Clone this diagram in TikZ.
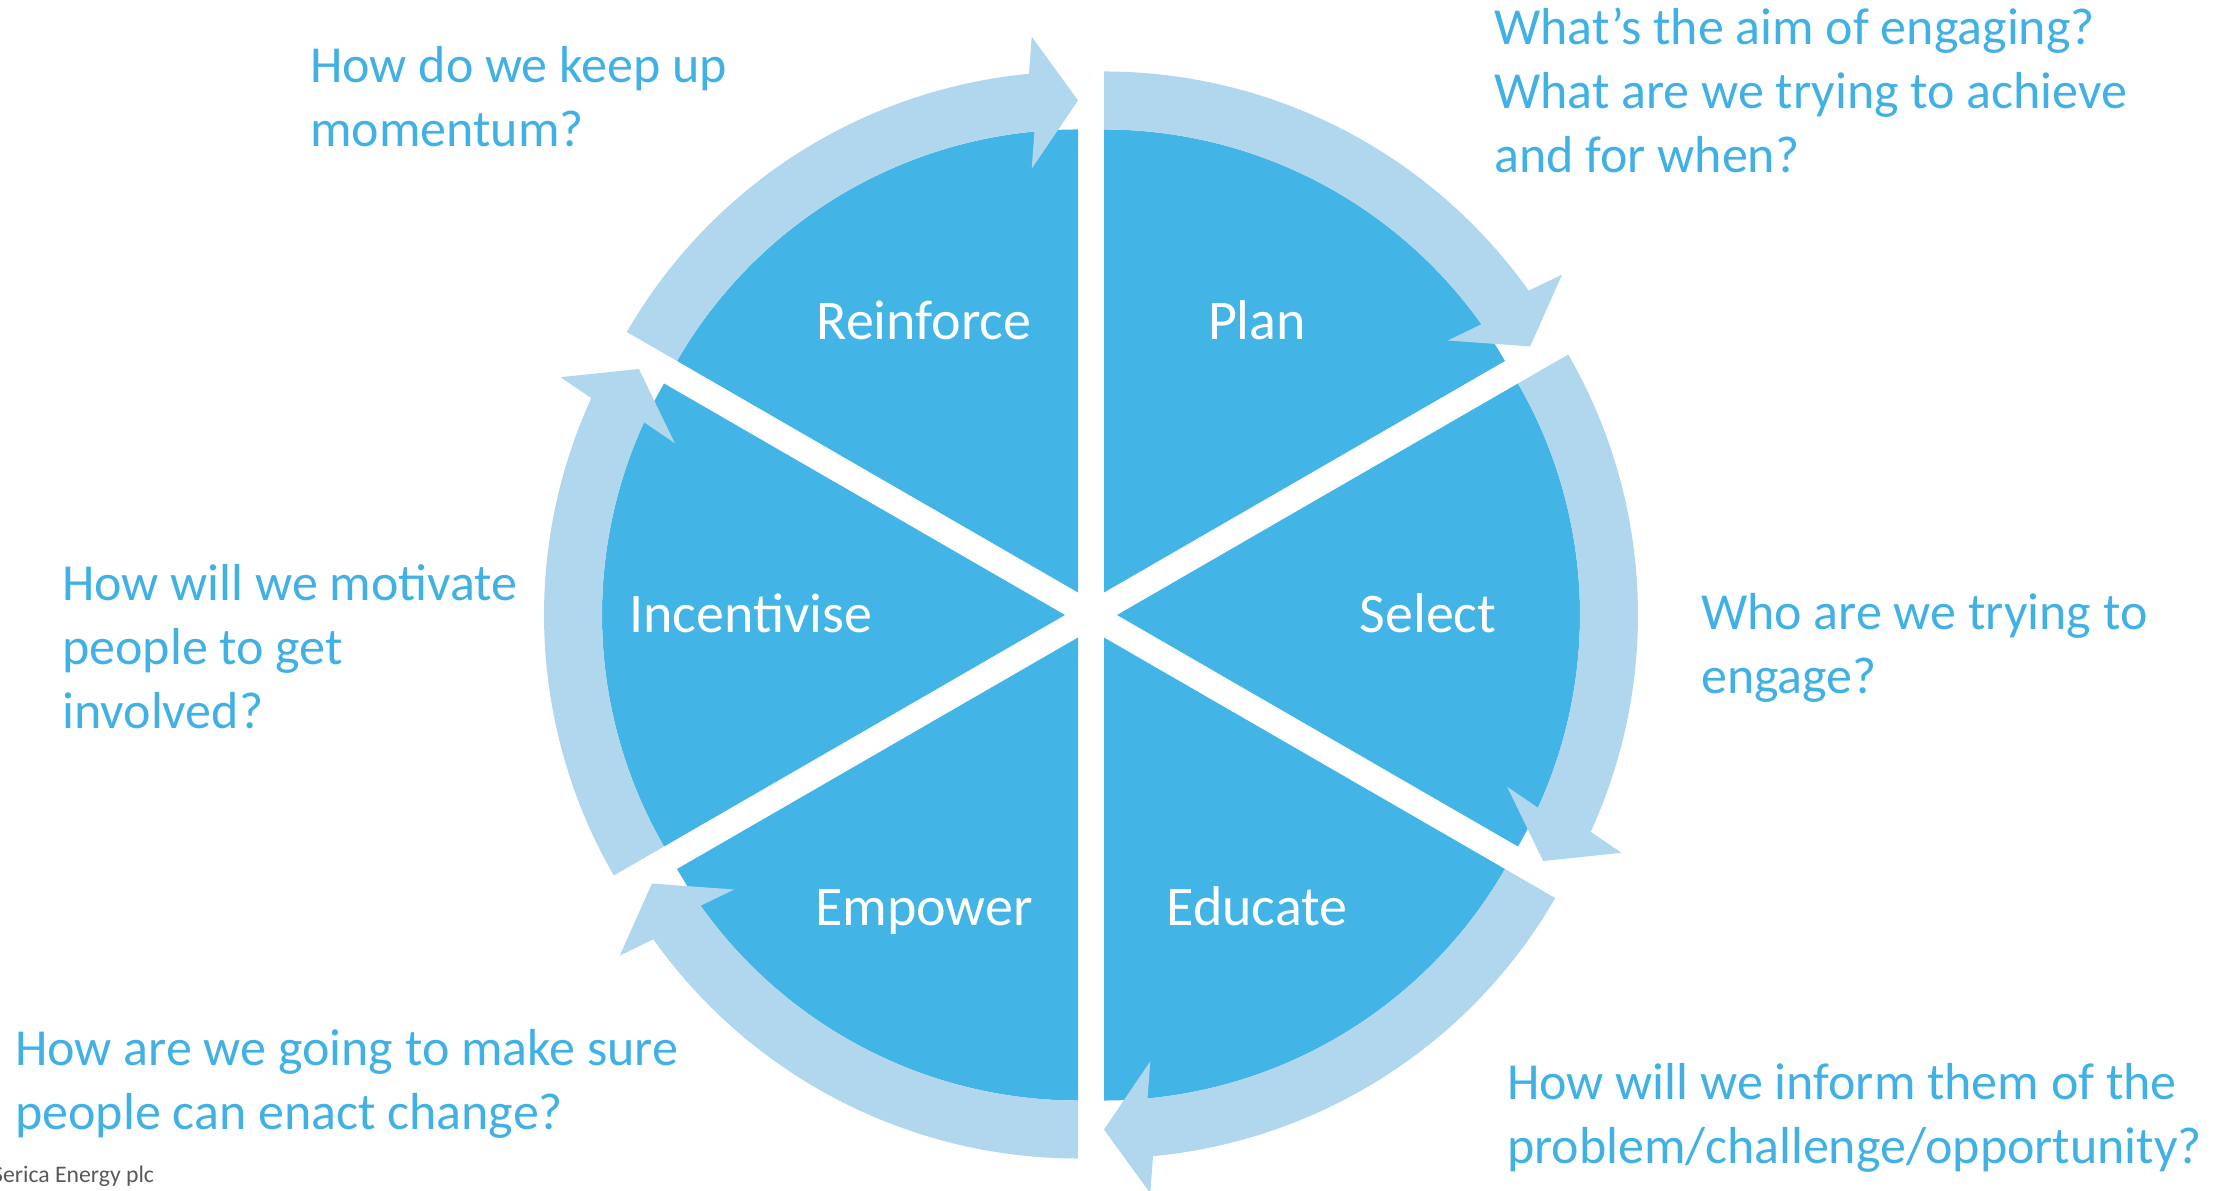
\documentclass[tikz,border=0pt]{standalone}
\usepackage{fontspec}
\setmainfont{Carlito}
\usetikzlibrary{calc}
\definecolor{pieblue}{RGB}{66,180,229}
\definecolor{ringblue}{RGB}{176,215,238}
\definecolor{qblue}{RGB}{65,177,229}
\definecolor{footgray}{RGB}{89,89,89}
\begin{document}
\begin{tikzpicture}[x=1pt,y=1pt,
  sector/.style={fill=pieblue},
  ringarrow/.style={fill=ringblue},
  seglabel/.style={text=white, font=\fontsize{56}{67}\selectfont, inner sep=0, anchor=base},
  question/.style={text=qblue, font=\fontsize{52}{64}\selectfont, align=left, anchor=base west, inner sep=0},
  footer/.style={text=footgray, font=\fontsize{23.7}{28}\selectfont, anchor=base west, inner sep=0}]
\path[use as bounding box] (0,0) rectangle (2222,1191);
\coordinate (O) at (1091,576);
% pie sectors (exploded)
\foreach \b/\n in {60/plan,0/select,-60/educate,-120/empower,180/incent,120/reinforce}{
  \coordinate (A-\n) at ($(O)+(\b:26)$);
  \pgfmathsetmacro\s{\b+30}
  \pgfmathsetmacro\e{\b-30}
  \fill[sector] (A-\n) -- ($(A-\n)+(\s:463)$) arc[start angle=\s, end angle=\e, radius=463] -- cycle;
}
% circular arrows
\foreach \b/\n in {60/plan,0/select,-60/educate,-120/empower,180/incent,120/reinforce}{
  \pgfmathsetmacro\s{\b+30}
  \pgfmathsetmacro\e{\b-30}
  \pgfmathsetmacro\h{\b-24.6}
  \fill[ringarrow] ($(A-\n)+(\s:463)$) -- ($(A-\n)+(\s:521)$)
     arc[start angle=\s, end angle=\h, radius=521]
     -- ($(A-\n)+(\h:492)+(\e:66)$)
     -- ($(A-\n)+(\e:492)$)
     -- ($(A-\n)+(\h:492)-(\e:66)$)
     -- ($(A-\n)+(\h:463)$)
     arc[start angle=\h, end angle=\s, radius=463] -- cycle;
}
% segment labels
\node[seglabel] (l-reinforce) at (924,851) {Reinforce};
\node[seglabel] (l-plan) at (1257,851) {Plan};
\node[seglabel] (l-select) at (1428,558) {Select};
\node[seglabel] (l-educate) at (1257,265) {Educate};
\node[seglabel] (l-empower) at (924,265) {Empower};
\node[seglabel] (l-incent) at (751,558) {Incentivise};
% questions (anchored at the baseline of their last line)
\node[question] (q-reinforce) at (310,1044) {How do we keep up\\momentum?};
\node[question] (q-plan) at (1494,1018) {What’s the aim of engaging?\\What are we trying to achieve\\and for when?};
\node[question] (q-select) at (1701,497) {Who are we trying to\\engage?};
\node[question] (q-educate) at (1507,27) {How will we inform them of the\\problem/challenge/opportunity?};
\node[question] (q-empower) at (15,61) {How are we going to make sure\\people can enact change?};
\node[question] (q-incent) at (62,462) {How will we motivate\\people to get\\involved?};
\node[footer] (foot) at (-8,8) {Serica Energy plc};
\end{tikzpicture}
\end{document}
